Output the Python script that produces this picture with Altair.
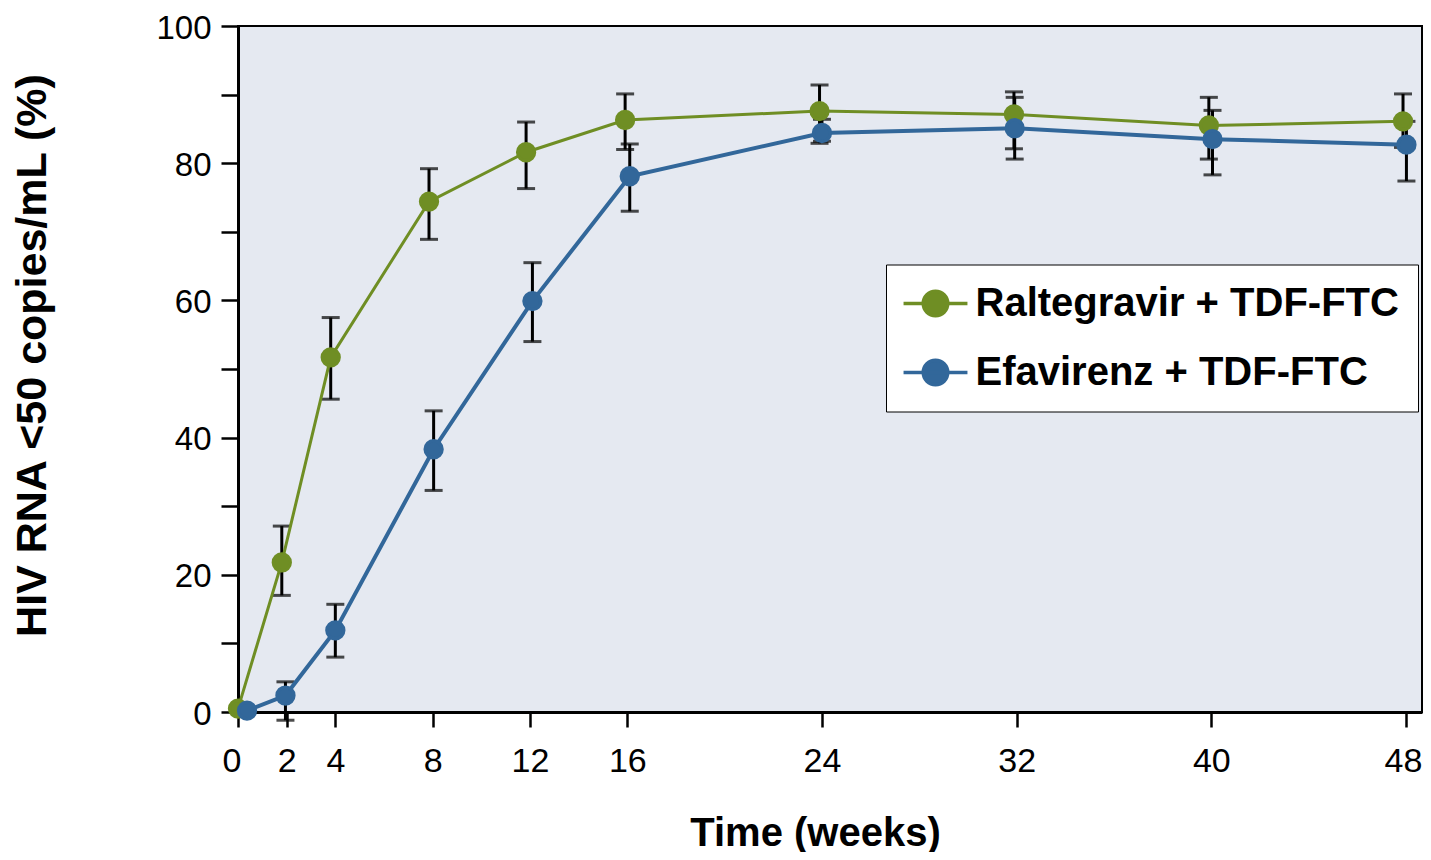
import altair as alt
import pandas as pd

# ---- data ----
weeks = [0, 2, 4, 8, 12, 16, 24, 32, 40, 48]
series = ["Raltegravir + TDF-FTC", "Efavirenz + TDF-FTC"]

ral_x = [0.0, 1.80, 3.81, 7.85, 11.84, 15.91, 23.90, 31.89, 39.90, 47.88]
ral_val = [0.5, 21.8, 51.7, 74.4, 81.6, 86.3, 87.6, 87.1, 85.5, 86.1]
ral_lo = [None, 17.0, 45.6, 68.9, 76.3, 82.0, 82.9, 82.1, 80.6, 82.3]
ral_hi = [None, 27.1, 57.5, 79.2, 86.0, 90.1, 91.4, 90.4, 89.6, 90.1]

efv_x = [0.37, 1.95, 4.00, 8.04, 12.10, 16.10, 24.00, 31.92, 40.05, 48.02]
efv_val = [0.2, 2.4, 11.9, 38.3, 59.9, 78.1, 84.4, 85.1, 83.5, 82.7]
efv_lo = [None, -1.2, 8.0, 32.3, 54.0, 73.0, 83.2, 80.6, 78.3, 77.4]
efv_hi = [None, 4.4, 15.7, 43.9, 65.5, 82.8, 86.4, 89.6, 87.7, 86.1]

y_ticks = list(range(0, 101, 10))

colors = ["#6F8E24", "#32679A"]
line_widths = [3, 4]

rows = []
for name, xs, vs, los, his in [
    (series[0], ral_x, ral_val, ral_lo, ral_hi),
    (series[1], efv_x, efv_val, efv_lo, efv_hi),
]:
    for w, x, v, lo, hi in zip(weeks, xs, vs, los, his):
        rows.append(dict(series=name, week=w, x=x, value=v, lo=lo, hi=hi))
df = pd.DataFrame(rows)
err = df.dropna(subset=["lo"]).copy()

FONT = "Liberation Sans"
X_MAX = 48.66

x_axis = alt.Axis(
    values=weeks, title="Time (weeks)", grid=False,
    labelFlush=20, labelFlushOffset=16,
    labelFont=FONT, labelFontSize=34, labelColor="black", labelPadding=17,
    tickSize=15, tickWidth=2.5, tickColor="black",
    domainColor="black", domainWidth=3,
    titleFont=FONT, titleFontSize=40, titleFontWeight="bold", titleColor="black",
    titleX=577, titleY=133, titleBaseline="alphabetic", titleAlign="center",
)
y_axis = alt.Axis(
    values=y_ticks, labelExpr="datum.value % 20 == 0 ? datum.label : ''",
    title="HIV RNA <50 copies/mL (%)", grid=False, labelFlush=False,
    labelFont=FONT, labelFontSize=33, labelColor="black", labelPadding=10,
    labelOffset=2,
    tickSize=17, tickWidth=2.5, tickColor="black",
    domainColor="black", domainWidth=3,
    titleFont=FONT, titleFontSize=43, titleFontWeight="bold", titleColor="black",
    titleX=-193, titleY=329, titleAngle=270, titleBaseline="alphabetic", titleAlign="center",
)
x_scale = alt.Scale(domain=[0, X_MAX], nice=False, zero=False)
y_scale = alt.Scale(domain=[0, 100], nice=False)


def X(f):
    return alt.X(f"{f}:Q", scale=x_scale, axis=x_axis)


def Y(f):
    return alt.Y(f"{f}:Q", scale=y_scale, axis=y_axis)


legend = alt.Legend(
    title=None, orient="none", legendX=648, legendY=238.5,
    fillColor="white", strokeColor="black", padding=19,
    symbolType="M-2.13,0L2.13,0M0.817,0A0.817,0.817,0,1,1,-0.817,0A0.817,0.817,0,1,1,0.817,0Z",
    symbolSize=900, symbolStrokeWidth=3.5, symbolOffset=10.5, labelOffset=20,
    rowPadding=29, labelFont=FONT, labelFontSize=40, labelFontWeight="bold",
    labelColor="black", labelLimit=1000,
)

base_err = alt.Chart(err)
rules = base_err.mark_rule(color="black", strokeWidth=3).encode(
    x=X("x"), y=Y("lo"), y2="hi:Q"
)
caps_lo = base_err.mark_tick(orient="horizontal", size=18, thickness=3, color="black").encode(
    x=X("x"), y=Y("lo")
)
caps_hi = base_err.mark_tick(orient="horizontal", size=18, thickness=3, color="black").encode(
    x=X("x"), y=Y("hi")
)

line_layers = []
for name, col, lw in zip(series, colors, line_widths):
    line_layers.append(
        alt.Chart(df).transform_filter(alt.datum.series == name)
        .mark_line(color=col, strokeWidth=lw)
        .encode(x=X("x"), y=Y("value"))
    )

points = alt.Chart(df).mark_point(filled=True, opacity=1, size=283, strokeWidth=3.5).encode(
    x=X("x"), y=Y("value"),
    fill=alt.Fill("series:N", scale=alt.Scale(domain=series, range=colors), legend=legend),
    stroke=alt.Stroke("series:N", scale=alt.Scale(domain=series, range=colors), legend=legend),
)

chart = alt.layer(rules, caps_lo, caps_hi, *line_layers, points).properties(
    width=1184, height=686,
    autosize=alt.AutoSizeParams(type="none"),
    padding={"left": 230, "top": 18, "right": 1, "bottom": 140},
).configure_view(fill="#E5E9F1", stroke="black", strokeWidth=2)

chart.save("out.html", embed_options={"renderer": "svg", "actions": False})
